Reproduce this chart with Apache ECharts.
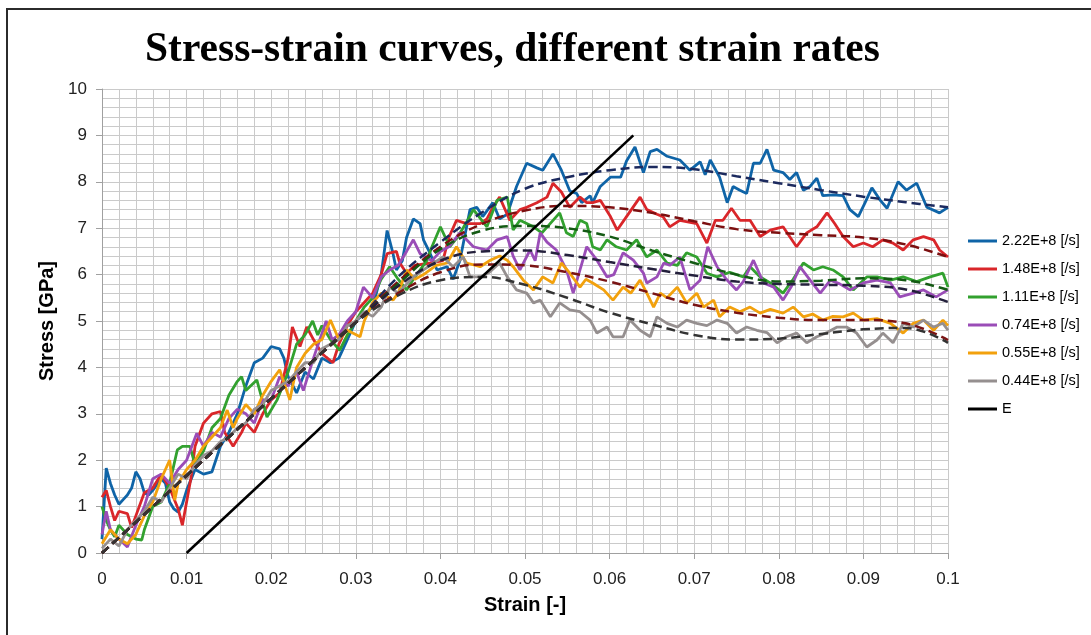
<!DOCTYPE html>
<html>
<head>
<meta charset="utf-8">
<script src="https://cdn.jsdelivr.net/npm/echarts@6/dist/echarts.min.js"></script>
<style>
  html, body { margin: 0; padding: 0; background: #ffffff; }
  #chart { width: 1091px; height: 635px; }
</style>
</head>
<body>
<div id="chart"></div>
<script>
// Measured stress-strain curves [strain, stress GPa], one per strain rate
const rate222 = [[0,0.3],[0.0005,1.83],[0.001,1.5],[0.0015,1.25],[0.002,1.05],[0.0025,1.15],[0.003,1.25],[0.0035,1.4],[0.004,1.75],[0.0045,1.6],[0.005,1.3],[0.0055,1.25],[0.006,1.35],[0.007,1.6],[0.0075,1.5],[0.008,1.1],[0.0085,0.95],[0.009,0.88],[0.0095,1.05],[0.01,1.35],[0.011,1.8],[0.012,1.7],[0.013,1.75],[0.014,2.3],[0.015,2.6],[0.016,3.0],[0.017,3.6],[0.018,4.1],[0.019,4.2],[0.02,4.45],[0.021,4.4],[0.0215,4.2],[0.022,3.8],[0.023,3.45],[0.024,3.9],[0.025,3.75],[0.026,4.2],[0.027,4.1],[0.028,4.2],[0.029,4.6],[0.03,5.0],[0.031,5.15],[0.032,5.3],[0.033,6.0],[0.0337,6.95],[0.0344,6.45],[0.0348,6.1],[0.0355,6.3],[0.036,6.8],[0.0368,7.2],[0.0376,7.1],[0.038,6.75],[0.0388,6.45],[0.0396,6.1],[0.0408,6.17],[0.0415,5.9],[0.0423,6.3],[0.0435,7.4],[0.0443,7.45],[0.045,7.25],[0.0462,7.55],[0.047,7.2],[0.0479,7.3],[0.049,7.9],[0.0502,8.4],[0.0514,8.3],[0.0521,8.25],[0.0533,8.6],[0.0543,8.25],[0.0553,7.8],[0.0561,7.75],[0.0567,7.55],[0.0577,7.7],[0.058,7.55],[0.0589,7.9],[0.0601,8.1],[0.0613,8.1],[0.062,8.45],[0.063,8.75],[0.064,8.2],[0.0648,8.65],[0.0656,8.7],[0.0668,8.55],[0.0683,8.47],[0.0695,8.25],[0.0707,8.43],[0.0713,8.15],[0.0719,8.47],[0.073,8.1],[0.0739,7.55],[0.0746,7.9],[0.0754,7.82],[0.0762,7.75],[0.077,8.4],[0.0778,8.4],[0.0786,8.7],[0.0794,8.25],[0.0805,8.2],[0.0813,8.05],[0.0821,8.2],[0.0829,7.82],[0.0837,7.9],[0.0845,8.08],[0.0852,7.7],[0.0864,7.72],[0.0876,7.7],[0.0884,7.4],[0.0894,7.25],[0.0902,7.55],[0.091,7.87],[0.092,7.6],[0.0928,7.43],[0.0941,8.0],[0.0951,7.82],[0.0963,7.97],[0.0975,7.45],[0.099,7.33],[0.1,7.45]];

const rate148 = [[0,1.2],[0.0005,1.35],[0.001,1.0],[0.0015,0.7],[0.002,0.9],[0.003,0.85],[0.0035,0.55],[0.004,0.8],[0.005,1.3],[0.006,1.4],[0.007,1.7],[0.008,1.4],[0.009,0.95],[0.0095,0.6],[0.0105,1.6],[0.011,2.3],[0.012,2.8],[0.013,3.0],[0.014,3.05],[0.0145,2.6],[0.0155,2.3],[0.0165,2.6],[0.017,2.8],[0.018,2.6],[0.019,3.0],[0.02,3.3],[0.021,3.45],[0.022,4.2],[0.0225,4.87],[0.0234,4.45],[0.0242,4.87],[0.025,4.6],[0.026,4.3],[0.0265,4.22],[0.0273,4.1],[0.028,4.5],[0.029,4.9],[0.03,5.2],[0.031,5.4],[0.032,5.6],[0.033,6.0],[0.0337,6.45],[0.0348,6.5],[0.0352,6.25],[0.036,6.03],[0.037,6.2],[0.0388,6.25],[0.0403,6.3],[0.041,6.8],[0.0419,7.17],[0.0431,7.1],[0.0447,7.1],[0.0455,7.2],[0.0462,7.45],[0.047,7.67],[0.0482,7.17],[0.0494,7.4],[0.0502,7.45],[0.0514,7.55],[0.0526,7.67],[0.0533,7.97],[0.0543,7.78],[0.0553,7.45],[0.0565,7.67],[0.0573,7.55],[0.058,7.55],[0.0589,7.6],[0.0601,7.25],[0.0609,6.96],[0.062,7.25],[0.0636,7.67],[0.0644,7.4],[0.0656,7.3],[0.0663,7.25],[0.0671,7.03],[0.0683,7.17],[0.0703,7.1],[0.0715,6.68],[0.0725,7.17],[0.0734,7.17],[0.0744,7.43],[0.0754,7.17],[0.0766,7.17],[0.0778,6.82],[0.079,6.96],[0.0805,7.03],[0.0821,6.6],[0.0833,6.9],[0.0845,7.03],[0.0857,7.33],[0.0866,7.1],[0.0876,6.82],[0.0888,6.6],[0.09,6.68],[0.0911,6.6],[0.0923,6.75],[0.0935,6.68],[0.0947,6.53],[0.0959,6.75],[0.0971,6.82],[0.0983,6.75],[0.099,6.53],[0.1,6.38]];

const rate111 = [[0,1.0],[0.0005,0.7],[0.001,0.5],[0.0015,0.35],[0.002,0.6],[0.003,0.4],[0.004,0.3],[0.0047,0.28],[0.005,0.5],[0.006,1.0],[0.007,1.1],[0.008,1.5],[0.0089,2.22],[0.0095,2.3],[0.0104,2.3],[0.011,1.9],[0.012,2.2],[0.013,2.7],[0.014,2.9],[0.015,3.4],[0.016,3.7],[0.0165,3.8],[0.017,3.5],[0.0183,3.73],[0.0195,2.93],[0.0207,3.3],[0.022,3.9],[0.023,4.5],[0.024,4.7],[0.0249,5.0],[0.0255,4.7],[0.026,4.9],[0.027,4.6],[0.0281,4.37],[0.029,4.7],[0.03,5.0],[0.031,5.3],[0.032,5.5],[0.033,5.9],[0.034,6.17],[0.035,5.9],[0.036,5.67],[0.0368,5.9],[0.0384,6.3],[0.039,6.6],[0.04,7.03],[0.0411,6.6],[0.042,6.8],[0.043,7.1],[0.0439,7.4],[0.0455,7.03],[0.0467,7.6],[0.0479,7.67],[0.0486,6.96],[0.0494,7.17],[0.051,7.03],[0.052,6.9],[0.0541,7.33],[0.0549,6.9],[0.0557,6.82],[0.0565,7.17],[0.0573,7.1],[0.058,6.6],[0.0589,6.53],[0.0597,6.75],[0.0608,6.6],[0.062,6.53],[0.0632,6.75],[0.0644,6.38],[0.0656,6.53],[0.0668,6.25],[0.068,6.2],[0.0691,6.47],[0.0703,6.38],[0.0715,6.03],[0.0727,5.95],[0.0742,6.05],[0.0758,5.95],[0.0766,6.17],[0.0778,5.95],[0.079,5.82],[0.0805,5.6],[0.0817,5.9],[0.0829,6.25],[0.0841,6.1],[0.0852,6.17],[0.0864,6.1],[0.0876,5.95],[0.0888,5.67],[0.0904,5.95],[0.0916,5.95],[0.0932,5.88],[0.0947,5.95],[0.0963,5.85],[0.0979,5.95],[0.0994,6.03],[0.1,5.73]];

const rate074 = [[0,0.4],[0.0005,0.9],[0.001,0.5],[0.002,0.3],[0.003,0.13],[0.004,0.6],[0.005,1.0],[0.006,1.6],[0.007,1.7],[0.008,1.5],[0.009,1.8],[0.01,2.0],[0.0112,2.58],[0.012,2.3],[0.013,2.6],[0.014,2.5],[0.015,2.9],[0.016,3.1],[0.017,3.0],[0.018,2.8],[0.019,3.3],[0.02,3.3],[0.021,3.8],[0.022,3.6],[0.023,3.9],[0.0238,3.5],[0.025,4.2],[0.0265,5.0],[0.0272,4.6],[0.028,4.7],[0.029,5.0],[0.03,5.2],[0.0309,5.73],[0.032,5.5],[0.033,5.95],[0.034,6.1],[0.035,6.2],[0.036,6.5],[0.0368,6.75],[0.0376,6.45],[0.039,6.3],[0.04,6.5],[0.041,6.6],[0.0423,6.9],[0.0439,6.6],[0.0455,6.53],[0.0467,6.75],[0.0479,6.82],[0.0486,6.4],[0.0494,6.1],[0.0506,6.53],[0.0512,6.3],[0.0518,6.9],[0.0526,6.7],[0.0537,6.53],[0.0549,6.1],[0.0557,5.6],[0.0565,6.1],[0.0573,6.6],[0.0585,6.31],[0.0597,5.95],[0.0605,6.0],[0.0616,6.47],[0.0628,6.31],[0.064,6.03],[0.0644,5.82],[0.0656,5.95],[0.0664,6.25],[0.0671,6.2],[0.0683,6.38],[0.0695,5.67],[0.0707,5.88],[0.0716,6.6],[0.0727,6.17],[0.0738,5.9],[0.075,5.67],[0.0758,5.85],[0.077,6.31],[0.0782,5.82],[0.0794,5.73],[0.0805,5.45],[0.0815,5.75],[0.0825,6.17],[0.0837,5.88],[0.0849,5.6],[0.0861,5.88],[0.0872,5.8],[0.0884,5.67],[0.09,5.82],[0.0916,5.88],[0.0932,5.82],[0.0943,5.52],[0.0959,5.6],[0.0971,5.67],[0.0986,5.52],[0.1,5.67]];

const rate055 = [[0,0.2],[0.001,0.5],[0.002,0.3],[0.003,0.2],[0.004,0.4],[0.005,0.8],[0.006,1.1],[0.007,1.6],[0.008,2.0],[0.0086,1.14],[0.009,1.5],[0.01,1.8],[0.011,2.0],[0.012,2.3],[0.013,2.5],[0.014,2.7],[0.0148,3.08],[0.0155,2.7],[0.016,2.9],[0.017,3.2],[0.018,3.0],[0.019,3.4],[0.02,3.7],[0.021,3.95],[0.0222,3.3],[0.023,4.0],[0.024,4.3],[0.025,4.5],[0.026,4.6],[0.027,5.02],[0.028,4.6],[0.029,4.8],[0.0305,4.66],[0.031,5.0],[0.032,5.4],[0.033,5.6],[0.0344,5.45],[0.035,5.6],[0.036,6.1],[0.037,5.9],[0.038,6.0],[0.0395,6.2],[0.0408,6.25],[0.0419,6.6],[0.0431,6.25],[0.0447,6.17],[0.0459,6.31],[0.047,6.4],[0.0479,6.31],[0.0486,6.17],[0.0498,5.88],[0.051,5.67],[0.0521,5.95],[0.0533,5.82],[0.0543,6.25],[0.0553,6.03],[0.0565,5.73],[0.0572,5.9],[0.058,5.82],[0.0593,5.67],[0.0604,5.45],[0.0616,5.73],[0.0625,5.6],[0.0636,5.88],[0.0644,5.6],[0.0652,5.3],[0.066,5.6],[0.0668,5.5],[0.068,5.73],[0.0691,5.39],[0.0703,5.6],[0.0711,5.3],[0.0723,5.45],[0.073,5.09],[0.0742,5.3],[0.0754,5.2],[0.0766,5.3],[0.0778,5.17],[0.079,5.25],[0.0805,5.17],[0.0817,5.3],[0.0829,5.09],[0.084,5.15],[0.0852,5.02],[0.0864,5.1],[0.0876,5.09],[0.0888,5.17],[0.09,5.02],[0.0916,5.05],[0.0932,4.95],[0.0947,4.74],[0.0959,4.95],[0.0971,5.02],[0.0983,4.8],[0.0994,5.02],[0.1,4.9]];

const rate044 = [[0,0.1],[0.001,0.3],[0.002,0.15],[0.003,0.5],[0.004,0.7],[0.005,0.9],[0.006,1.2],[0.007,1.1],[0.008,1.4],[0.009,1.7],[0.01,1.6],[0.011,1.9],[0.012,2.1],[0.013,2.2],[0.014,2.4],[0.015,2.5],[0.016,2.7],[0.017,2.8],[0.018,3.1],[0.019,3.2],[0.02,3.5],[0.021,3.6],[0.022,3.7],[0.023,3.9],[0.024,4.1],[0.025,4.1],[0.026,4.4],[0.027,4.5],[0.028,4.6],[0.029,4.9],[0.03,5.0],[0.031,5.2],[0.032,5.1],[0.033,5.3],[0.034,5.73],[0.035,5.6],[0.0368,5.95],[0.038,6.1],[0.0392,6.25],[0.0403,6.38],[0.0415,6.17],[0.0427,6.38],[0.0435,5.95],[0.0447,5.95],[0.0458,6.05],[0.047,6.25],[0.0479,5.95],[0.049,5.67],[0.0502,5.6],[0.051,5.39],[0.0518,5.45],[0.053,5.09],[0.0541,5.39],[0.0553,5.24],[0.0565,5.2],[0.0577,5.02],[0.0585,4.74],[0.0597,4.87],[0.0604,4.66],[0.0616,4.66],[0.0624,5.02],[0.0636,4.8],[0.0648,4.66],[0.0656,5.09],[0.0668,4.95],[0.068,4.87],[0.0691,5.02],[0.0703,4.95],[0.0715,4.9],[0.0727,5.02],[0.0739,4.95],[0.075,4.74],[0.0762,4.87],[0.0774,4.8],[0.0786,4.75],[0.0798,4.53],[0.0809,4.66],[0.0821,4.74],[0.0833,4.53],[0.0845,4.66],[0.0857,4.75],[0.0869,4.87],[0.088,4.87],[0.0892,4.74],[0.0904,4.44],[0.0916,4.59],[0.0923,4.74],[0.0935,4.53],[0.0947,4.95],[0.0959,4.87],[0.0971,5.02],[0.0983,4.87],[0.0994,4.95],[0.1,4.8]];

// Fitted trend curves (dashed), sampled every 0.005 strain
const fitStrain = [0,0.005,0.01,0.015,0.02,0.025,0.03,0.035,0.04,0.045,0.05,0.055,0.06,0.065,0.07,0.075,0.08,0.085,0.09,0.095,0.1];
const fit222 = [0,0.83,1.67,2.5,3.33,4.15,4.97,5.95,6.7,7.35,7.85,8.1,8.25,8.32,8.27,8.12,7.97,7.82,7.68,7.56,7.45];
const fit148 = [0,0.83,1.67,2.5,3.33,4.15,4.97,5.85,6.6,7.1,7.38,7.48,7.45,7.33,7.15,6.98,6.9,6.85,6.8,6.65,6.38];
const fit111 = [0,0.83,1.67,2.5,3.33,4.15,4.97,5.8,6.55,6.95,7.05,7.0,6.82,6.52,6.25,6.0,5.85,5.87,5.92,5.88,5.67];
const fit074 = [0,0.83,1.67,2.5,3.33,4.15,4.97,5.75,6.3,6.5,6.52,6.42,6.27,6.12,5.98,5.85,5.8,5.78,5.76,5.68,5.41];
const fit055 = [0,0.83,1.67,2.5,3.33,4.15,4.97,5.6,6.05,6.22,6.2,6.05,5.85,5.6,5.35,5.18,5.07,5.02,5.02,4.95,4.59];
const fit044 = [0,0.83,1.67,2.5,3.33,4.15,4.97,5.55,5.88,5.95,5.78,5.5,5.18,4.93,4.7,4.6,4.62,4.72,4.82,4.85,4.53];

// Elastic modulus line E
const modulusLine = [[0.01, 0], [0.0628, 9.0]];

const rateNames = ['2.22E+8 [/s]', '1.48E+8 [/s]', '1.11E+8 [/s]', '0.74E+8 [/s]', '0.55E+8 [/s]', '0.44E+8 [/s]'];
const rateColors = ['#0f64a7', '#d9262a', '#32a12f', '#9a4db7', '#f2a10d', '#958f8f'];
const fitColors = ['#1c2a5e', '#7c0f10', '#145a14', '#24203c', '#7a1414', '#333333'];
const measured = [rate222, rate148, rate111, rate074, rate055, rate044];
const fits = [fit222, fit148, fit111, fit074, fit055, fit044];

const chart = echarts.init(document.getElementById('chart'), null, { renderer: 'canvas' });

const series = [];
measured.forEach((d, i) => {
  series.push({
    name: rateNames[i], type: 'line', data: d, symbol: 'none',
    lineStyle: { color: rateColors[i], width: 2.8 }, itemStyle: { color: rateColors[i] },
    z: 2 + i
  });
});
fits.forEach((f, i) => {
  series.push({
    name: 'fit ' + rateNames[i], type: 'line', smooth: 0.4, symbol: 'none',
    data: fitStrain.map((s, k) => [s, f[k]]),
    lineStyle: { color: fitColors[i], width: 2.5, type: [9, 5] },
    z: 10
  });
});
series.push({
  name: 'E', type: 'line', data: modulusLine, symbol: 'none',
  lineStyle: { color: '#000000', width: 2.6 }, itemStyle: { color: '#000000' }, z: 12
});

const gridColor = '#cacaca';
const axisColor = '#a0a0a0';

chart.setOption({
  animation: false,
  backgroundColor: '#ffffff',
  title: {
    text: 'Stress-strain curves, different strain rates',
    left: 140, top: 24,
    textStyle: { fontFamily: 'Liberation Serif', fontWeight: 'bold', fontSize: 41.5, color: '#000000' }
  },
  graphic: [{
    type: 'rect', shape: { x: 7, y: 9, width: 1200, height: 800 }, silent: true,
    style: { fill: 'none', stroke: '#2b2b2b', lineWidth: 2 }, z: -1
  }],
  legend: {
    orient: 'vertical', left: 968, top: 233, padding: 0,
    icon: 'rect', itemWidth: 29, itemHeight: 3, itemGap: 12,
    data: rateNames.concat(['E']),
    textStyle: { fontFamily: 'Liberation Sans', fontSize: 14.5, color: '#000000', lineHeight: 16 }
  },
  grid: { left: 102, top: 89, width: 846, height: 464, containLabel: false },
  xAxis: {
    type: 'value', min: 0, max: 0.1, interval: 0.01,
    name: 'Strain [-]', nameLocation: 'middle', nameGap: 42,
    nameTextStyle: { fontFamily: 'Liberation Sans', fontWeight: 'bold', fontSize: 20, color: '#000000' },
    axisLine: { show: true, onZero: false, lineStyle: { color: axisColor, width: 1 } },
    axisTick: { show: true, length: 6, lineStyle: { color: axisColor } },
    axisLabel: {
      margin: 18, fontFamily: 'Liberation Sans', fontSize: 17, color: '#222222',
      formatter: v => (v === 0 ? '0' : String(+v.toFixed(2)))
    },
    splitLine: { show: true, lineStyle: { color: gridColor, width: 1 } },
    minorSplitLine: { show: true, lineStyle: { color: gridColor, width: 1 } },
    minorTick: { show: false, splitNumber: 5 }
  },
  yAxis: {
    type: 'value', min: 0, max: 10, interval: 1,
    name: 'Stress [GPa]', nameLocation: 'middle', nameGap: 44, nameRotate: 90,
    nameTextStyle: { fontFamily: 'Liberation Sans', fontWeight: 'bold', fontSize: 20, color: '#000000' },
    axisLine: { show: true, lineStyle: { color: axisColor, width: 1 } },
    axisTick: { show: true, length: 6, lineStyle: { color: axisColor } },
    axisLabel: { margin: 15, fontFamily: 'Liberation Sans', fontSize: 17, color: '#222222' },
    splitLine: { show: true, lineStyle: { color: gridColor, width: 1 } },
    minorSplitLine: { show: true, lineStyle: { color: gridColor, width: 1 } },
    minorTick: { show: false, splitNumber: 5 }
  },
  series: series
});
</script>
</body>
</html>
